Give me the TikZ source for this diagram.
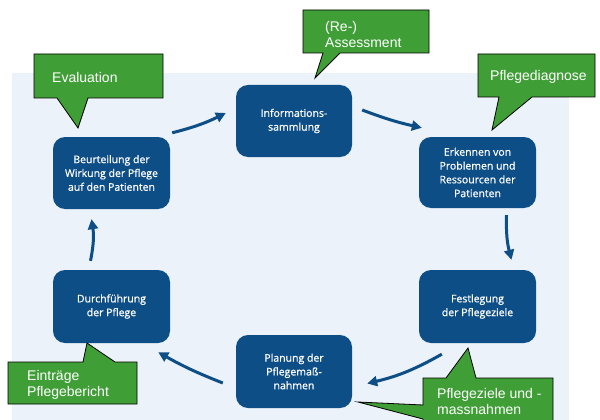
\documentclass[tikz,border=0pt]{standalone}
\usepackage{fontspec}
\setmainfont{Liberation Sans}
\newfontfamily\boxfont[FakeBold=0.8]{Open Sans}
\usetikzlibrary{arrows.meta,calc}
\definecolor{bgblue}{HTML}{EBF2F9}
\definecolor{boxblue}{HTML}{0D4E86}
\definecolor{callgreen}{HTML}{3F9F36}
\tikzset{
  stepbox/.style={draw=none,fill=boxblue,rounded corners=12pt,text=white,
    align=center,inner sep=0pt,font=\boxfont\fontsize{10.5}{13.8}\selectfont},
  arr/.style={draw=boxblue,line width=3pt,-{Triangle[length=10pt,width=10pt]}},
  callout/.style={fill=callgreen,draw=black,line width=0.8pt,line join=miter},
  calltext/.style={text=white,align=left,inner sep=0pt,anchor=west,
    font=\fontsize{14}{16}\selectfont}
}
\begin{document}
\begin{tikzpicture}[x=1pt,y=-1pt]
\useasboundingbox (0,0) rectangle (600,420);
\clip (0,0) rectangle (600,420);
\fill[bgblue] (12,73) rectangle (569,420);

\node[stepbox,minimum width=116pt,minimum height=72pt] (info) at (294,121) {Informations-\\sammlung};
\node[stepbox,minimum width=117pt,minimum height=71pt] (erk) at (477.5,172.5) {Erkennen von\\Problemen und\\Ressourcen der\\Patienten};
\node[stepbox,minimum width=117pt,minimum height=72pt] (beur) at (111.5,173) {Beurteilung der\\Wirkung der Pflege\\auf den Patienten};
\node[stepbox,minimum width=117pt,minimum height=73pt] (durch) at (111.5,306.5) {Durchführung\\der Pflege};
\node[stepbox,minimum width=117pt,minimum height=73pt] (fest) at (477.5,306.5) {Festlegung\\der Pflegeziele};
\node[stepbox,minimum width=116pt,minimum height=73pt] (plan) at (294,371.5) {Planung der\\Pflegemaß-\\nahmen};

\draw[arr] ($(beur.north east)+(2,-4)$) to[bend right=6] ($(info.west)+(-10,-8)$);
\draw[arr] ($(info.east)+(10,-11)$) to[bend right=4] ($(erk.north west)+(3,-9)$);
\draw[arr] ($(erk.south)+(29,7)$) to[bend right=8] ($(fest.north)+(34,-10)$);
\draw[arr] ($(fest.south west)+(23,11)$) to[bend left=8] ($(plan.east)+(15,12)$);
\draw[arr] ($(plan.west)+(-13,11.5)$) to[bend left=4] ($(durch.south east)+(-12,9)$);
\draw[arr] ($(durch.north)+(-21,-9)$) to[bend right=10] ($(beur.south)+(-20,10)$);

% callouts
\path[callout] (303,10) -- (429,10) -- (429,53) -- (340,53) -- (315,78) -- (323,53) -- (303,53) -- cycle;
\node[calltext] (tassess) at (325,34.5) {(Re-)\\Assessment};

\path[callout] (34,54) -- (163,54) -- (163,98) -- (88,98) -- (78,128) -- (57,98) -- (34,98) -- cycle;
\node[calltext] (teval) at (52,77) {Evaluation};

\path[callout] (478,54) -- (595,54) -- (595,97) -- (532,97) -- (492,130) -- (499,97) -- (478,97) -- cycle;
\node[calltext] (tdiag) at (490,77) {Pflegediagnose};

\path[callout] (8,362) -- (83,362) -- (87,343) -- (115,362) -- (137,362) -- (137,404) -- (8,404) -- cycle;
\node[calltext] (tbericht) at (27,385) {Einträge\\Pflegebericht};

\path[callout] (423,378) -- (446,378) -- (468,348) -- (476,378) -- (553,378) -- (553,430) -- (423,430) -- (423,419) -- (358,402) -- (423,405) -- cycle;
\node[calltext] (tziele) at (437,401) {Pflegeziele und -\\massnahmen};
\end{tikzpicture}
\end{document}
